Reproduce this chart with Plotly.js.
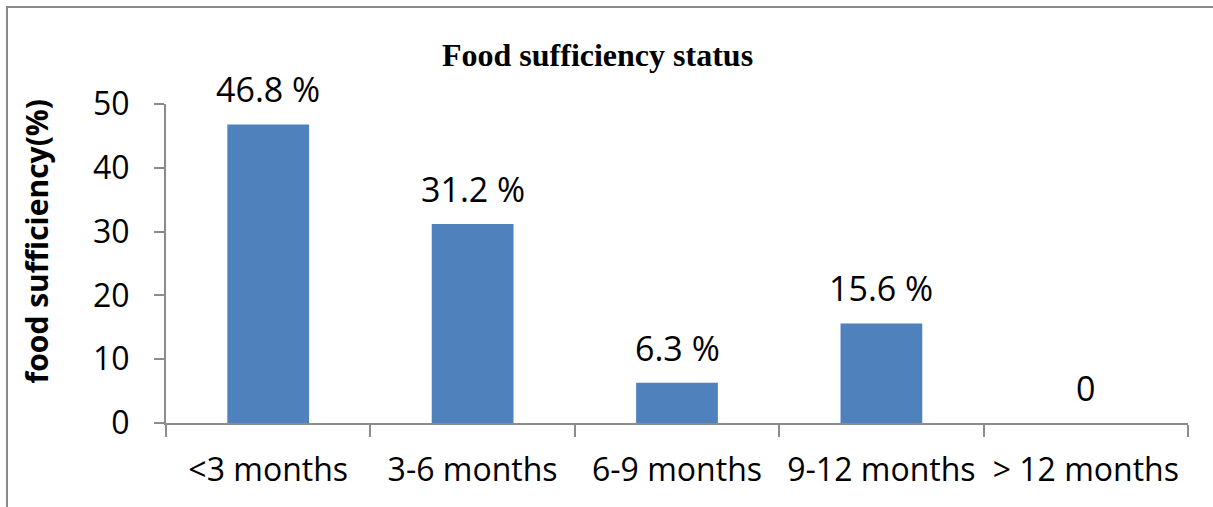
<!DOCTYPE html>
<html>
<head>
<meta charset="utf-8">
<script src="https://cdn.plot.ly/plotly-3.0.1.min.js"></script>
<style>
  html, body { margin: 0; padding: 0; background: #fff; }
  #wrap { position: relative; width: 1213px; height: 507px; overflow: hidden; }
  #chart { position: absolute; left: 0; top: 0; width: 1213px; height: 507px; }
  #frame { position: absolute; left: 6px; top: 6px; width: 1300px; height: 600px;
           border-left: 2px solid #8a8a8a; border-top: 2px solid #8a8a8a; pointer-events: none; }
</style>
</head>
<body>
<div id="wrap">
  <div id="chart"></div>
  <div id="frame"></div>
</div>
<script>
const categories = ['<3 months', '3-6 months', '6-9 months', '9-12 months', '> 12 months'];
const values = [46.8, 31.2, 6.3, 15.6, 0];
const labels = ['46.8 %', '31.2 %', '6.3 %', '15.6 %', '0'];
const yTicks = [0, 10, 20, 30, 40, 50];
const yTitle = 'food sufficiency(%)';
const chartTitle = 'Food sufficiency status';

const trace = {
  type: 'bar',
  x: categories,
  y: values,
  marker: { color: '#4F81BD', line: { width: 0 } },
  width: 0.4,
  hoverinfo: 'skip'
};

const annotations = categories.map((c, i) => ({
  x: c,
  y: values[i],
  xref: 'x',
  yref: 'y',
  text: labels[i],
  showarrow: false,
  yanchor: 'bottom',
  yshift: 10,
  font: { family: 'Open Sans, sans-serif', size: 34, color: '#000' }
}));

annotations.push({
  text: '<b>' + yTitle + '</b>',
  xref: 'paper', yref: 'paper',
  x: -0.127, y: 0.570,
  xanchor: 'center', yanchor: 'middle',
  textangle: -90,
  showarrow: false,
  font: { family: 'Open Sans, sans-serif', size: 30, color: '#000' }
});

const layout = {
  width: 1213,
  height: 507,
  margin: { l: 166, r: 25, t: 104, b: 84 },
  paper_bgcolor: '#fff',
  plot_bgcolor: '#fff',
  showlegend: false,
  annotations: annotations,
  title: {
    text: '<b>' + chartTitle + '</b>',
    font: { family: 'Liberation Serif, Times New Roman, serif', size: 32, color: '#000' },
    x: 0.4926, xanchor: 'center', xref: 'container',
    y: 0.892, yanchor: 'middle', yref: 'container'
  },
  xaxis: {
    type: 'category',
    showgrid: false,
    showline: true,
    linecolor: '#8c8c8c',
    linewidth: 2,
    ticks: 'outside',
    tickson: 'boundaries',
    ticklen: 12,
    tickwidth: 2,
    tickcolor: '#8c8c8c',
    ticklabelstandoff: 18,
    tickfont: { family: 'Open Sans, sans-serif', size: 32, color: '#000' },
    zeroline: false
  },
  yaxis: {
    range: [0, 50],
    tickvals: yTicks,
    showgrid: false,
    showline: true,
    linecolor: '#8c8c8c',
    linewidth: 2,
    ticks: 'outside',
    ticklen: 10,
    tickwidth: 2,
    tickcolor: '#8c8c8c',
    ticklabelstandoff: 18,
    zeroline: false,
    tickfont: { family: 'Open Sans, sans-serif', size: 32, color: '#000' },
    automargin: false
  },
  bargap: 0.6
};

Plotly.newPlot('chart', [trace], layout, { displayModeBar: false, staticPlot: true });
</script>
</body>
</html>
